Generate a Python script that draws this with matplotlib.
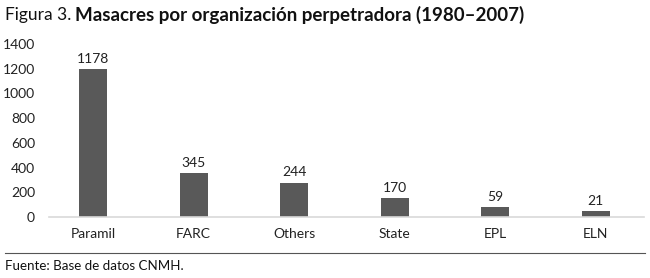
"""
Figura 3: masacres por organización perpetradora (1980-2007), barras simples.
"""
import matplotlib
matplotlib.use("Agg")
import matplotlib.pyplot as plt
from matplotlib.lines import Line2D

plt.rcParams["font.family"] = ["Lato", "DejaVu Sans"]

categorias = ["Paramil", "FARC", "Others", "State", "EPL", "ELN"]
# alturas de barra tal como se ven en la figura
alturas = [1195, 354, 278, 154, 78, 48]
# etiquetas impresas sobre cada barra
etiquetas = ["1178", "345", "244", "170", "59", "21"]
yticks = [0, 200, 400, 600, 800, 1000, 1200, 1400]

W, H = 650, 278
fig = plt.figure(figsize=(W/100, H/100), dpi=100)
ax = fig.add_axes([49/W, 1 - 217/H, (644-49)/W, (217-44)/H])

x = list(range(len(categorias)))
ax.bar(x, alturas, width=0.28, color="#595959", zorder=2)
for xi, h, lab in zip(x, alturas, etiquetas):
    ax.annotate(lab, (xi, h), xytext=(0, 3), textcoords="offset points",
                ha="center", va="bottom", fontsize=10, color="#222222")

ax.set_xlim(-0.44, 5.48)
ax.set_ylim(0, 1400)
ax.set_xticks(x)
ax.set_xticklabels(categorias, fontsize=10, color="#222222")
ax.set_yticks(yticks)
ax.set_yticklabels([str(v) for v in yticks], fontsize=10, color="#222222")
ax.tick_params(axis="both", length=0)
ax.tick_params(axis="x", pad=8)
ax.tick_params(axis="y", pad=10)
for s in ("top", "right", "left"):
    ax.spines[s].set_visible(False)
ax.spines["bottom"].set_color("#d9d9d9")
ax.spines["bottom"].set_linewidth(1.2)

# título: parte normal + parte en negrita
t1 = fig.text(5/W, 1 - 15/H, "Figura 3.", fontsize=12.5, va="center", ha="left",
              color="#111111")
r = fig.canvas.get_renderer()
x1 = t1.get_window_extent(r).x1
fig.text((x1 + 4)/W, 1 - 15/H, "Masacres por organización perpetradora (1980–2007)",
         fontsize=13.5, fontweight="bold", va="center", ha="left", color="#111111")

# pie
fig.add_artist(Line2D([5/W, 645/W], [1 - 253/H] * 2, color="#555555", lw=0.8))
fig.text(5/W, 1 - 266/H, "Fuente: Base de datos CNMH.", fontsize=9.6,
         va="center", ha="left", color="#111111")

fig.savefig("out.png", dpi=100)
plt.close(fig)
